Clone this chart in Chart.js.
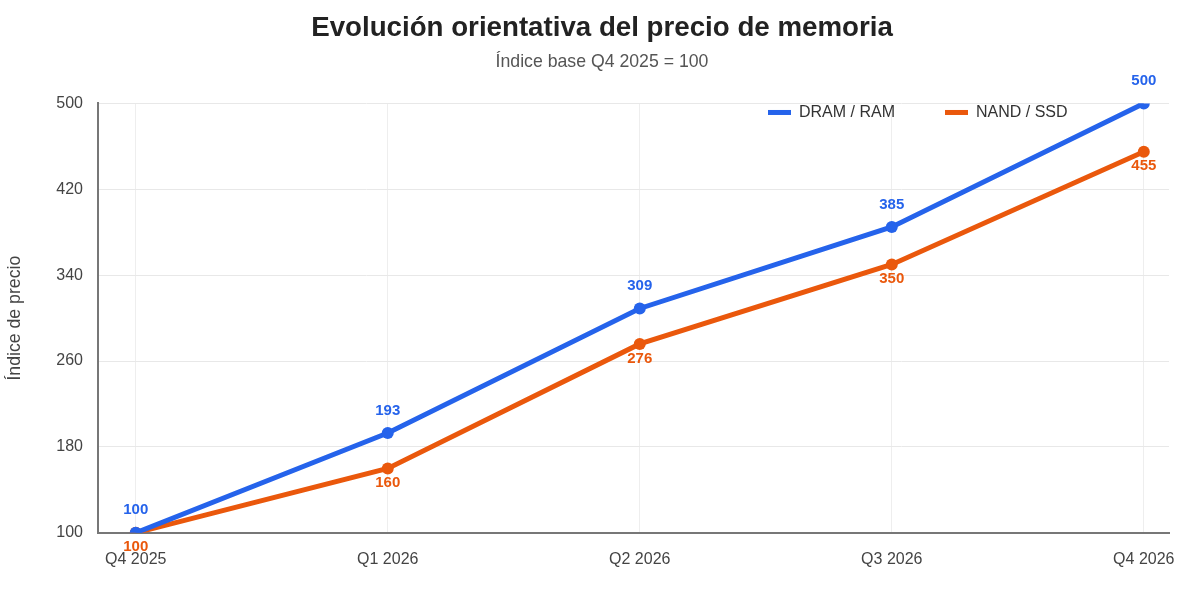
<!DOCTYPE html>
<html>
<head>
<meta charset="utf-8">
<script src="https://cdn.jsdelivr.net/npm/chart.js@4.4.1/dist/chart.umd.min.js"></script>
<style>
html,body{margin:0;padding:0;background:#fff;}
#wrap{width:1200px;height:595px;}
</style>
</head>
<body>
<div id="wrap"><canvas id="c" width="1200" height="595"></canvas></div>
<script>
const categories = ["Q4 2025", "Q1 2026", "Q2 2026", "Q3 2026", "Q4 2026"];
const dramValues = [100, 193, 309, 385, 500];
const nandValues = [100, 160, 276, 350, 455];
const yTicks = [100, 180, 260, 340, 420, 500];
const seriesNames = ["DRAM / RAM", "NAND / SSD"];
const BLUE = "#2563eb", ORANGE = "#ea580c";
const FONT = "'Liberation Sans', Arial, sans-serif";

const labelPlugin = {
  id: 'pointLabels',
  afterDatasetsDraw(chart) {
    const ctx = chart.ctx;
    ctx.save();
    ctx.font = "bold 15px " + FONT;
    ctx.textAlign = 'center';
    chart.data.datasets.forEach((ds, i) => {
      const meta = chart.getDatasetMeta(i);
      meta.data.forEach((pt, j) => {
        const v = ds.data[j].y;
        ctx.fillStyle = ds.borderColor;
        if (i === 0) {
          ctx.textBaseline = 'bottom';
          ctx.fillText(String(v), pt.x, pt.y - 15);
        } else {
          ctx.textBaseline = 'top';
          ctx.fillText(String(v), pt.x, pt.y + 7);
        }
      });
    });
    ctx.restore();
  }
};

const legendPlugin = {
  id: 'customLegend',
  afterDraw(chart) {
    const ctx = chart.ctx;
    const area = chart.chartArea;
    ctx.save();
    ctx.font = "16px " + FONT;
    ctx.textBaseline = 'middle';
    ctx.textAlign = 'left';
    const y = area.top + 9;
    let x = area.right - 401;
    chart.data.datasets.forEach((ds, i) => {
      ctx.fillStyle = ds.borderColor;
      ctx.fillRect(x, y - 2.5, 23, 5);
      ctx.fillStyle = '#333';
      ctx.fillText(ds.label, x + 31, y);
      x += 177;
    });
    ctx.restore();
  }
};

const chart = new Chart(document.getElementById('c'), {
  type: 'line',
  data: {
    datasets: [
      {
        label: seriesNames[0],
        yAxisID: 'y',
        data: dramValues.map((v, i) => ({x: i, y: v})),
        borderColor: BLUE, backgroundColor: BLUE,
        borderWidth: 5, pointRadius: 6, pointHoverRadius: 6,
        pointBackgroundColor: BLUE, pointBorderWidth: 0, tension: 0
      },
      {
        label: seriesNames[1],
        yAxisID: 'y',
        data: nandValues.map((v, i) => ({x: i, y: v})),
        borderColor: ORANGE, backgroundColor: ORANGE,
        borderWidth: 5, pointRadius: 6, pointHoverRadius: 6,
        pointBackgroundColor: ORANGE, pointBorderWidth: 0, tension: 0
      }
    ]
  },
  options: {
    responsive: false,
    animation: false,
    devicePixelRatio: 1,
    layout: { padding: { left: 4, right: 0, top: 0, bottom: 9 } },
    plugins: {
      legend: { display: false },
      tooltip: { enabled: false },
      title: {
        display: true,
        text: 'Evolución orientativa del precio de memoria',
        color: '#222',
        font: { family: FONT, size: 27.7, weight: 'bold' },
        padding: { top: 12, bottom: 6 }
      },
      subtitle: {
        display: true,
        text: 'Índice base Q4 2025 = 100',
        color: '#555',
        font: { family: FONT, size: 17.7 },
        padding: { bottom: 31 }
      }
    },
    scales: {
      x: {
        type: 'linear',
        min: -0.15,
        max: 4.1,
        ticks: {
          stepSize: 1,
          includeBounds: false,
          autoSkip: false,
          maxRotation: 0,
          color: '#444',
          font: { family: FONT, size: 16 },
          padding: 17,
          callback: (v) => categories[v] !== undefined ? categories[v] : ''
        },
        grid: { color: '#eeeeee', drawTicks: false },
        border: { color: '#777', width: 2 }
      },
      y: {
        min: 100,
        max: 500,
        afterBuildTicks: (axis) => { axis.ticks = yTicks.map(v => ({value: v})); },
        ticks: {
          color: '#444',
          font: { family: FONT, size: 16 },
          padding: 15
        },
        grid: { color: '#e8e8e8', drawTicks: false },
        border: { color: '#777', width: 2 },
        title: {
          display: true,
          text: 'Índice de precio',
          color: '#444',
          font: { family: FONT, size: 17.7 },
          padding: { top: 0, bottom: 16 }
        }
      },
      yRight: {
        position: 'right',
        min: 100,
        max: 500,
        display: true,
        ticks: { display: false },
        grid: { display: false },
        border: { display: false },
        afterFit: (s) => { s.width = 31; }
      }
    }
  },
  plugins: [labelPlugin, legendPlugin]
});
</script>
</body>
</html>
